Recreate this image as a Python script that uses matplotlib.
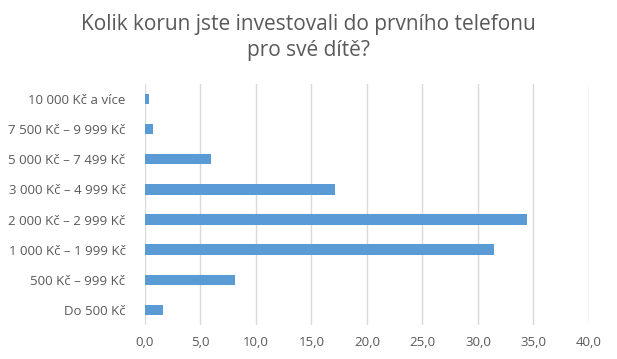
import matplotlib.pyplot as plt
from matplotlib.ticker import FuncFormatter

# data (share of respondents, %)
categories = ["Do 500 Kč", "500 Kč – 999 Kč", "1 000 Kč – 1 999 Kč", "2 000 Kč – 2 999 Kč",
              "3 000 Kč – 4 999 Kč", "5 000 Kč – 7 499 Kč", "7 500 Kč – 9 999 Kč", "10 000 Kč a více"]
values = [1.65, 8.1, 31.4, 34.4, 17.1, 5.95, 0.75, 0.35]
xticks = [0, 5, 10, 15, 20, 25, 30, 35, 40]

plt.rcParams['font.family'] = ['Open Sans', 'DejaVu Sans']
text_color = "#595959"

fig = plt.figure(figsize=(6.17, 3.59), dpi=100)
ax = fig.add_axes([0.235, 0.095, 0.7196, 0.671])

ax.barh(range(len(categories)), values, height=0.34, color="#5b9bd5", zorder=3)

ax.set_xlim(0, 40)
ax.set_ylim(-0.5, len(categories) - 0.5)
ax.set_xticks(xticks)
ax.xaxis.set_major_formatter(FuncFormatter(lambda v, p: f"{v:.1f}".replace(".", ",")))
ax.set_yticks(range(len(categories)))
ax.set_yticklabels(categories)
ax.tick_params(axis='both', length=0, labelsize=9.5, colors=text_color)
ax.tick_params(axis='y', pad=14)
ax.tick_params(axis='x', pad=8)
ax.grid(axis='x', color="#d9d9d9", linewidth=1, zorder=0)
for s in ax.spines.values():
    s.set_visible(False)

fig.text(0.5, 0.96, "Kolik korun jste investovali do prvního telefonu\npro své dítě?",
         ha='center', va='top', fontsize=15, color=text_color, linespacing=1.3)

fig.savefig("out.png", dpi=100)
